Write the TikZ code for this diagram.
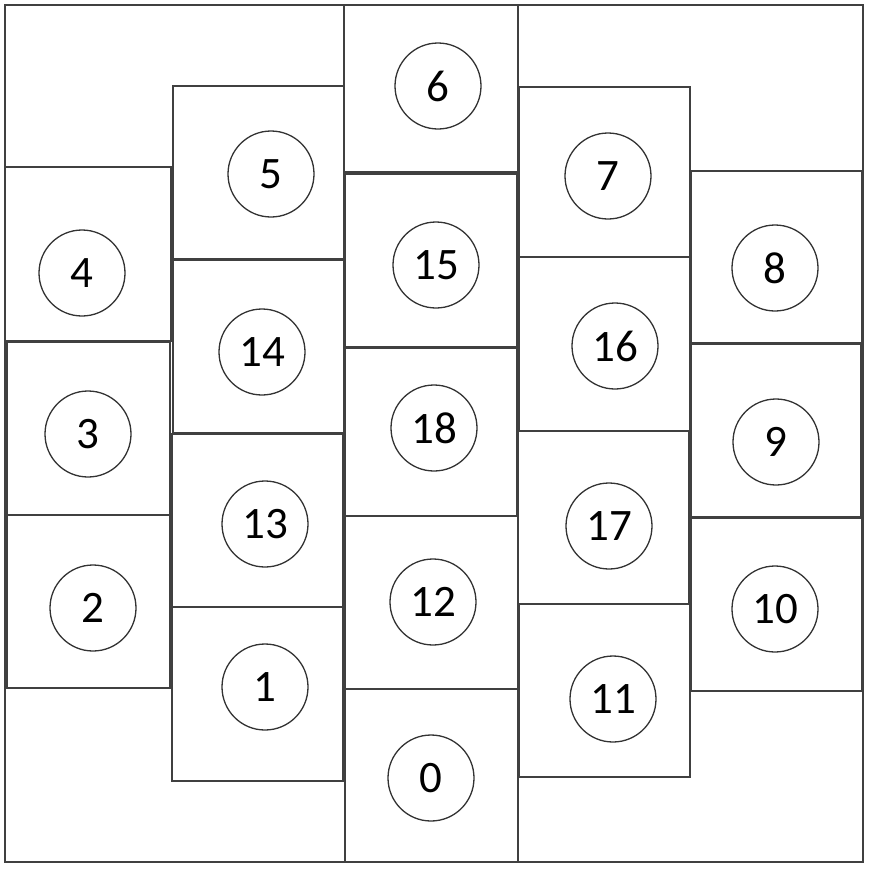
\documentclass[tikz,border=0pt]{standalone}
\usepackage{fontspec}
\setmainfont{Carlito}
\newfontfamily\numfont{Carlito}
\begin{document}
\begin{tikzpicture}[x=1pt,y=-1pt,
  boxline/.style={draw=black!75, line width=1.8pt},
  num/.style={circle, draw=black!80, line width=1.3pt, minimum size=86pt, inner sep=0pt,
    font=\numfont\fontsize{45}{54}\selectfont, text=black}]
\useasboundingbox (0,0) rectangle (870,868);
% outer frame
\draw[boxline] (5,5) rectangle (863,862);
% column 1
\draw[boxline] (5,167) rectangle (171,341);
\draw[boxline] (7,342) rectangle (170,515);
\draw[boxline] (7,515) rectangle (170,688);
% column 2
\draw[boxline] (173,86) rectangle (344,259);
\draw[boxline] (173,260) rectangle (344,433);
\draw[boxline] (172,434) rectangle (343,607);
\draw[boxline] (172,607) rectangle (343,781);
% column 3
\draw[boxline] (344,5) rectangle (518,172);
\draw[boxline] (345,174) rectangle (517,347);
\draw[boxline] (345,348) rectangle (517,516);
\draw[boxline] (345,516) rectangle (518,689);
\draw[boxline] (345,689) rectangle (518,862);
% column 4
\draw[boxline] (519,87) rectangle (690,257);
\draw[boxline] (519,257) rectangle (690,431);
\draw[boxline] (518,431) rectangle (689,604);
\draw[boxline] (519,604) rectangle (690,777);
% column 5
\draw[boxline] (691,171) rectangle (862,343);
\draw[boxline] (691,344) rectangle (861,517);
\draw[boxline] (691,518) rectangle (862,691);
% circles
\node[num] (c4) at (82,273) {4};
\node[num] (c3) at (88,434) {3};
\node[num] (c2) at (93,608) {2};
\node[num] (c5) at (271,174) {5};
\node[num] (c14) at (262,352) {14};
\node[num] (c13) at (265,524) {13};
\node[num] (c1) at (265,687) {1};
\node[num] (c6) at (438,86) {6};
\node[num] (c15) at (436,265) {15};
\node[num] (c18) at (434,428) {18};
\node[num] (c12) at (433,602) {12};
\node[num] (c0) at (431,778) {0};
\node[num] (c7) at (608,176) {7};
\node[num] (c16) at (615,346) {16};
\node[num] (c17) at (609,526) {17};
\node[num] (c11) at (613,699) {11};
\node[num] (c8) at (775,268) {8};
\node[num] (c9) at (776,442) {9};
\node[num] (c10) at (775,609) {10};
\end{tikzpicture}
\end{document}
